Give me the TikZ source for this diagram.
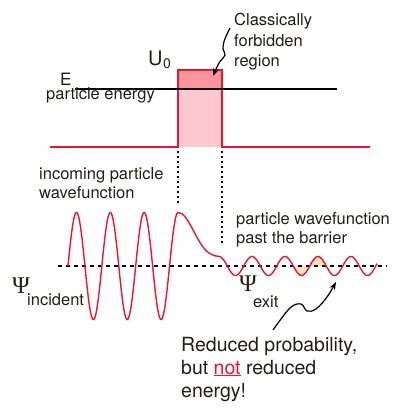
\documentclass[tikz,border=0pt]{standalone}
\usepackage{fontspec}
\setmainfont{TeX Gyre Heros}
\newfontfamily\psifont{Liberation Serif}
\usetikzlibrary{arrows.meta}
\definecolor{txt}{RGB}{35,30,20}
\definecolor{wred}{RGB}{238,20,50}
\definecolor{btop}{RGB}{250,150,155}
\definecolor{blow}{RGB}{255,200,205}
\definecolor{peach}{RGB}{252,224,192}
\tikzset{
  lbl/.style={anchor=base west, inner sep=0pt, text=txt, font=\fontsize{16.5}{20}\selectfont},
  big/.style={anchor=base west, inner sep=0pt, text=txt, font=\fontsize{19.5}{23}\selectfont, align=left},
  psi/.style={anchor=base west, inner sep=0pt, text=txt, font=\psifont\fontsize{24}{24}\selectfont},
  wave/.style={draw=wred, line width=1.4pt},
  arr/.style={draw=black, line width=1.2pt, -{Stealth[length=8pt,width=6pt]}},
  vdot/.style={draw=black, line width=1.5pt, dash pattern=on 1.5pt off 3.5pt},
  axis/.style={draw=black, line width=1.4pt, dash pattern=on 4pt off 4pt}
}
\begin{document}
\begin{tikzpicture}[x=1pt,y=-1pt]
\useasboundingbox (0,0) rectangle (402,413);
% barrier
\fill[btop] (178,70) rectangle (222,89);
\fill[blow] (178,89) rectangle (222,147);
\draw[wred, line width=1.3pt] (50,147) -- (178,147) -- (178,70) -- (222,70) -- (222,147) -- (370,147);
\draw[black, line width=2.3pt] (75,89) -- (337,89);
% dotted verticals
\draw[vdot] (178,151) -- (178,203);
\draw[vdot] (222,151) -- (222,244);
% fill under exit wave
\fill[peach] plot[domain=293.25:326.25, samples=60] (\x, {266 - 9.5*cos((\x-252)*10.909)}) -- cycle;
% axis
\draw[axis] (58,266) -- (387,266);
% waves
\draw[wave] plot[domain=68:178, samples=220] (\x, {266 - 53.5*sin((\x-68)*10.635)})
  .. controls (189,212.5) and (196,244) .. (209,253)
  .. controls (214,256) and (217,256.5) .. (220,256.5);
\draw[wave] plot[domain=220:377, samples=220] (\x, {266 - 9.5*cos((\x-252)*10.909)});
% labels
\node[lbl, font=\fontsize{17}{20}\selectfont] (E) at (60,85.5) {E};
\node[lbl] (pe) at (46,99.5) {particle energy};
\node[lbl, font=\fontsize{20}{20}\selectfont] (U) at (148,65) {U};
\node[lbl, font=\fontsize{14}{14}\selectfont] (U0) at (163,68.5) {0};
\node[lbl, align=left, font=\fontsize{16.5}{20.6}\selectfont] (cf) at (234,66.8) {Classically\\forbidden\\region};
\node[lbl, align=left, font=\fontsize{16.5}{19.5}\selectfont] (inc) at (39,198.5) {incoming particle\\wavefunction};
\node[lbl, align=left, font=\fontsize{16.5}{19.5}\selectfont] (past) at (236,243.5) {particle wavefunction\\past the barrier};
\node[psi] (psi1) at (12,293) {Ψ};
\node[lbl] (inclbl) at (27,305) {incident};
\node[psi] (psi2) at (239,291) {Ψ};
\node[lbl] (exitlbl) at (253,307) {exit};
\node[big] (red) at (181,397) {Reduced probability,\\but {\color{wred}\underline{not}} reduced\\energy!};
% arrows
\coordinate (t1) at (213,76);
\coordinate (s1) at (230,28);
\draw[arr] plot[smooth, tension=0.6] coordinates {(s1) (224.5,40) (223,49) (225,55) (219,63) (t1)};
\coordinate (s2) at (273,330);
\coordinate (t2) at (336,282);
\draw[arr] plot[smooth, tension=0.6] coordinates {(s2) (290,308) (301,304) (307,311) (316,309) (327,297) (t2)};
\end{tikzpicture}
\end{document}
